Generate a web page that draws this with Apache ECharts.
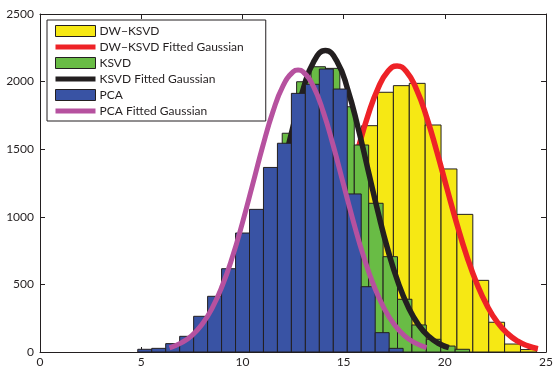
<!DOCTYPE html>
<html>
<head>
<meta charset="utf-8">
<script src="https://cdn.jsdelivr.net/npm/echarts@6/dist/echarts.min.js"></script>
<style>
html,body{margin:0;padding:0;background:#fff;}
#c{width:556px;height:368px;}
</style>
</head>
<body>
<div id="c"></div>
<script>
// ---- Data ----
const seriesNames = ['DW\u2212KSVD', 'DW\u2212KSVD Fitted Gaussian', 'KSVD', 'KSVD Fitted Gaussian', 'PCA', 'PCA Fitted Gaussian'];

const xTicks = [0, 5, 10, 15, 20, 25];
const yTicks = [0, 500, 1000, 1500, 2000, 2500];

// Histogram bins: first bin left edge, bin width, counts
const dwBinStart = 9.608;
const dwBinWidth = 0.785;
const dwCounts = [10, 25, 65, 145, 300, 560, 900, 1400, 1674, 1921, 1970, 1987, 1679, 1354, 1018, 530, 220, 59, 18];

const ksvdBinStart = 5.558;
const ksvdBinWidth = 0.712;
const ksvdCounts = [15, 40, 90, 180, 300, 480, 700, 950, 1250, 1618, 1999, 2110, 2098, 1814, 1531, 1100, 705, 390, 200, 94, 44, 20];

const pcaBinStart = 4.83;
const pcaBinWidth = 0.69;
const pcaCounts = [20, 27, 62, 116, 264, 412, 616, 880, 1055, 1365, 1544, 1913, 1980, 2093, 1945, 1169, 483, 143, 27];

// Fitted curves
const dwCurveX = [10.7, 11.2, 11.7, 12.2, 12.7, 13.2, 13.7, 14.2, 14.7, 15.2, 15.7, 16.2, 16.7, 17.2, 17.64, 18.1, 18.6, 19.1, 19.6, 20.1, 20.6, 21.1, 21.6, 22.1, 22.6, 23.1, 23.6, 24.1, 24.6];
const dwCurveY = [25, 46, 82, 139, 224, 344, 507, 711, 954, 1223, 1495, 1748, 1950, 2078, 2115, 2075, 1943, 1738, 1485, 1212, 944, 702, 499, 339, 219, 136, 80, 45, 24];

const ksvdCurveX = [8.0, 8.5, 9.0, 9.5, 10.0, 10.5, 11.0, 11.5, 12.0, 12.5, 13.0, 13.5, 14.1, 14.7, 15.2, 15.7, 16.2, 16.7, 17.2, 17.7, 18.2, 18.7, 19.2, 19.7, 20.2];
const ksvdCurveY = [32, 63, 116, 201, 330, 511, 748, 1034, 1351, 1667, 1943, 2141, 2230, 2141, 1943, 1667, 1351, 1034, 748, 511, 330, 201, 116, 63, 32];

const pcaCurveX = [6.4, 7.0, 7.5, 8.0, 8.5, 9.0, 9.5, 10.0, 10.5, 11.0, 11.5, 12.0, 12.5, 12.75, 13.0, 13.5, 14.0, 14.5, 15.0, 15.5, 16.0, 16.5, 17.0, 17.5, 18.0, 18.5, 19.1];
const pcaCurveY = [30, 69, 121, 203, 323, 488, 700, 955, 1236, 1520, 1774, 1967, 2072, 2085, 2072, 1967, 1774, 1520, 1236, 955, 700, 488, 323, 203, 121, 69, 32];

// ---- Styles ----
const FONT = 'Lato';
const EDGE = '#231f20';
const C_YEL = '#f6e814';
const C_RED = '#ee2227';
const C_GRN = '#69bc45';
const C_BLK = '#231f20';
const C_BLU = '#3953a4';
const C_MAG = '#b6519f';

function histSeries(name, start, width, counts, color, z) {
  const data = counts.map((c, i) => [start + i * width, start + (i + 1) * width, c]);
  return {
    type: 'custom',
    name: name,
    z: z,
    data: data,
    encode: { x: [0, 1], y: 2 },
    itemStyle: { color: color, borderColor: EDGE, borderWidth: 1 },
    renderItem: function (params, api) {
      const p0 = api.coord([api.value(0), api.value(2)]);
      const p1 = api.coord([api.value(1), 0]);
      return {
        type: 'rect',
        shape: { x: p0[0], y: p0[1], width: p1[0] - p0[0], height: p1[1] - p0[1] },
        style: { fill: color, stroke: EDGE, lineWidth: 1 }
      };
    }
  };
}

function curveSeries(name, xs, ys, color, width, z) {
  return {
    type: 'line',
    name: name,
    z: z,
    data: xs.map((x, i) => [x, ys[i]]),
    smooth: true,
    showSymbol: false,
    symbol: 'none',
    itemStyle: { color: color },
    lineStyle: { color: color, width: width }
  };
}

const lineIcon = 'path://M0,0H40V5H0Z';
const plainNum = function (v) { return String(v); };

const chart = echarts.init(document.getElementById('c'), null, { renderer: 'canvas' });
chart.setOption({
  animation: false,
  backgroundColor: '#ffffff',
  textStyle: { fontFamily: FONT },
  grid: { left: 40, right: 3, top: 14, bottom: 16, containLabel: false },
  xAxis: [
    {
      type: 'value', min: xTicks[0], max: xTicks[xTicks.length - 1], interval: 5,
      position: 'bottom',
      axisLine: { show: true, onZero: false, lineStyle: { color: EDGE, width: 1 } },
      axisTick: { show: true, inside: true, length: 5, lineStyle: { color: EDGE } },
      axisLabel: { color: '#231f20', fontSize: 12, fontFamily: FONT, margin: 4, formatter: plainNum },
      splitLine: { show: false }
    },
    {
      type: 'value', min: xTicks[0], max: xTicks[xTicks.length - 1], interval: 5,
      position: 'top',
      axisLine: { show: true, onZero: false, lineStyle: { color: EDGE, width: 1 } },
      axisTick: { show: true, inside: true, length: 5, lineStyle: { color: EDGE } },
      axisLabel: { show: false },
      splitLine: { show: false }
    }
  ],
  yAxis: [
    {
      type: 'value', min: yTicks[0], max: yTicks[yTicks.length - 1], interval: 500,
      position: 'left',
      axisLine: { show: true, onZero: false, lineStyle: { color: EDGE, width: 1 } },
      axisTick: { show: true, inside: true, length: 5, lineStyle: { color: EDGE } },
      axisLabel: { color: '#231f20', fontSize: 12, fontFamily: FONT, margin: 6, formatter: plainNum },
      splitLine: { show: false }
    },
    {
      type: 'value', min: yTicks[0], max: yTicks[yTicks.length - 1], interval: 500,
      position: 'right',
      axisLine: { show: true, onZero: false, lineStyle: { color: EDGE, width: 1 } },
      axisTick: { show: true, inside: true, length: 5, lineStyle: { color: EDGE } },
      axisLabel: { show: false },
      splitLine: { show: false }
    }
  ],
  legend: {
    orient: 'vertical',
    left: 47,
    top: 20,
    z: 20,
    padding: [5, 22, 4, 8],
    itemWidth: 40,
    itemHeight: 11,
    itemGap: 4,
    backgroundColor: '#ffffff',
    borderColor: EDGE,
    borderWidth: 1,
    borderRadius: 0,
    selectedMode: false,
    textStyle: { color: '#231f20', fontSize: 12, fontFamily: FONT, padding: [0, 0, 0, -1] },
    data: [
      { name: seriesNames[0], icon: 'rect', itemStyle: { color: C_YEL, borderColor: EDGE, borderWidth: 1 } },
      { name: seriesNames[1], icon: lineIcon, itemStyle: { color: C_RED, borderWidth: 0 } },
      { name: seriesNames[2], icon: 'rect', itemStyle: { color: C_GRN, borderColor: EDGE, borderWidth: 1 } },
      { name: seriesNames[3], icon: lineIcon, itemStyle: { color: C_BLK, borderWidth: 0 } },
      { name: seriesNames[4], icon: 'rect', itemStyle: { color: C_BLU, borderColor: EDGE, borderWidth: 1 } },
      { name: seriesNames[5], icon: lineIcon, itemStyle: { color: C_MAG, borderWidth: 0 } }
    ]
  },
  series: [
    histSeries(seriesNames[0], dwBinStart, dwBinWidth, dwCounts, C_YEL, 2),
    curveSeries(seriesNames[1], dwCurveX, dwCurveY, C_RED, 5.5, 3),
    histSeries(seriesNames[2], ksvdBinStart, ksvdBinWidth, ksvdCounts, C_GRN, 4),
    curveSeries(seriesNames[3], ksvdCurveX, ksvdCurveY, C_BLK, 5.5, 5),
    histSeries(seriesNames[4], pcaBinStart, pcaBinWidth, pcaCounts, C_BLU, 6),
    curveSeries(seriesNames[5], pcaCurveX, pcaCurveY, C_MAG, 5, 7)
  ]
});
</script>
</body>
</html>
